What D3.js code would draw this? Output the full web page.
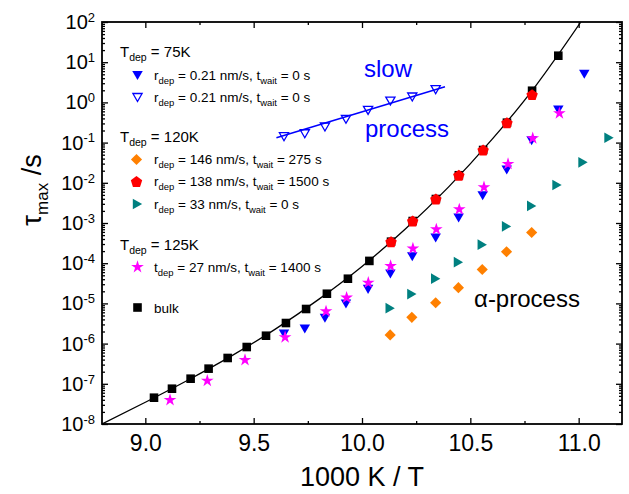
<!DOCTYPE html>
<html><head><meta charset="utf-8">
<script src="https://cdn.jsdelivr.net/npm/d3@7"></script>
<style>
body{margin:0;background:#fff}
text{font-family:"Liberation Sans",Arial,Helvetica,sans-serif}
</style>
</head><body>
<svg id="chart" width="629" height="494"></svg>
<script>
// ---------- data (x = 1000 K / T, y = tau_max in s) ----------
const bulkX = [9.04, 9.123, 9.209, 9.292, 9.38, 9.468, 9.557, 9.649, 9.742, 9.838, 9.935, 10.034, 10.134, 10.234, 10.341, 10.447, 10.559, 10.669, 10.785, 10.906];
const bulkTau = [4.51e-8, 7.55e-8, 1.34e-7, 2.38e-7, 4.39e-7, 8.22e-7, 1.57e-6, 3.25e-6, 7.26e-6, 1.74e-5, 4.11e-5, 1.14e-4, 3.43e-4, 1.12e-3, 3.95e-3, 1.54e-2, 6.55e-2, 0.313, 1.95, 14.5];

const fitX = [8.8, 9.0, 9.2, 9.4, 9.6, 9.8, 10.0, 10.2, 10.4, 10.6, 10.8, 11.01];
const fitTau = [1e-8, 3.47e-8, 1.26e-7, 5.01e-7, 2.29e-6, 1.26e-5, 8.32e-5, 7.08e-4, 7.94e-3, 0.120, 2.51, 100];

const blueX = [9.64, 9.736, 9.829, 9.926, 10.028, 10.131, 10.232, 10.34, 10.446, 10.557, 10.668, 10.783, 10.906, 11.026];
const blueTau = [1.73e-6, 2.31e-6, 4.26e-6, 9.66e-6, 2.24e-5, 5.38e-5, 1.45e-4, 4.24e-4, 1.33e-3, 4.78e-3, 2.08e-2, 0.111, 0.647, 5.0];

const slowX = [9.64, 9.736, 9.829, 9.926, 10.028, 10.131, 10.232, 10.34];
const slowTau = [0.140, 0.166, 0.244, 0.380, 0.635, 1.08, 1.36, 2.07];
const slowFitX = [9.605, 10.383];
const slowFitTau = [0.132, 2.46];

const orangeX = [10.13, 10.23, 10.34, 10.445, 10.555, 10.667, 10.783];
const orangeTau = [1.64e-6, 4.51e-6, 1.04e-5, 2.46e-5, 6.97e-5, 1.93e-4, 5.81e-4];

const redX = [10.134, 10.234, 10.341, 10.447, 10.559, 10.669, 10.785];
const redTau = [3.43e-4, 1.12e-3, 3.95e-3, 1.54e-2, 6.55e-2, 0.313, 1.56];

const tealX = [10.13, 10.23, 10.34, 10.445, 10.555, 10.667, 10.783, 10.9, 11.02, 11.14];
const tealTau = [7.60e-6, 1.71e-5, 4.11e-5, 1.06e-4, 2.88e-4, 8.22e-4, 2.65e-3, 8.81e-3, 3.24e-2, 0.132];

const starX = [9.114, 9.286, 9.46, 9.645, 9.834, 9.929, 10.029, 10.132, 10.235, 10.343, 10.449, 10.563, 10.674, 10.788, 10.911];
const starTau = [3.95e-8, 1.19e-7, 3.91e-7, 1.44e-6, 6.35e-6, 1.39e-5, 3.27e-5, 8.51e-5, 2.32e-4, 6.97e-4, 2.19e-3, 7.73e-3, 2.94e-2, 0.128, 0.536];

const xTicks = [9.0, 9.5, 10.0, 10.5, 11.0];
const xMinorTicks = [9.25, 9.75, 10.25, 10.75];
const yExponents = [-8, -7, -6, -5, -4, -3, -2, -1, 0, 1, 2];

// ---------- layout ----------
const L = 102, R = 622, T = 22, B = 424;
const svg = d3.select("#chart");
const x = d3.scaleLinear().domain([8.8, 11.2]).range([L, R]);
const y = d3.scaleLog().domain([1e-8, 1e2]).range([B, T]);

const C = {blue:"#0000ff", orange:"#ff8000", red:"#ff0000", teal:"#008080", magenta:"#ff00ff", black:"#000"};

// ---------- custom symbols ----------
function triSym(dir){ // bbox-centred triangle, size = width^2
  return {draw(ctx, s){
    const w = Math.sqrt(s), h = w*0.87;
    if(dir==="down"){ ctx.moveTo(-w/2,-h/2); ctx.lineTo(w/2,-h/2); ctx.lineTo(0,h/2); }
    else if(dir==="right"){ ctx.moveTo(-h/2,-w/2); ctx.lineTo(h/2,0); ctx.lineTo(-h/2,w/2); }
    ctx.closePath();
  }};
}
const pentSym = {draw(ctx, s){
  const r = Math.sqrt(s);
  for(let i=0;i<5;i++){
    const a = -Math.PI/2 + i*2*Math.PI/5;
    const px = r*Math.cos(a), py = r*Math.sin(a) + r*0.1;
    if(i===0) ctx.moveTo(px,py); else ctx.lineTo(px,py);
  }
  ctx.closePath();
}};
const diamSym = {draw(ctx, s){
  const r = Math.sqrt(s)/2;
  ctx.moveTo(0,-r); ctx.lineTo(r,0); ctx.lineTo(0,r); ctx.lineTo(-r,0); ctx.closePath();
}};

const S = {
  blue: d3.symbol().type(triSym("down")).size(110),
  open: d3.symbol().type(triSym("down")).size(85),
  orange: d3.symbol().type(diamSym).size(125),
  red: d3.symbol().type(pentSym).size(36),
  teal: d3.symbol().type(triSym("right")).size(115),
  star: d3.symbol().type(d3.symbolStar).size(50),
  bulk: d3.symbol().type(d3.symbolSquare).size(74)
};

// ---------- clip ----------
svg.append("defs").append("clipPath").attr("id","clip")
  .append("rect").attr("x",L).attr("y",T).attr("width",R-L).attr("height",B-T);

const plot = svg.append("g").attr("clip-path","url(#clip)");

// fit line for bulk
const lineGen = d3.line().x(d=>x(d[0])).y(d=>y(d[1])).curve(d3.curveMonotoneX);
plot.append("path").datum(fitX.map((v,i)=>[v, fitTau[i]]))
  .attr("d", lineGen).attr("fill","none").attr("stroke","#000").attr("stroke-width",1.3);

function pts(xs, ys, sym, fill, stroke, sw){
  plot.append("g").selectAll("path").data(xs.map((v,i)=>[v, ys[i]])).join("path")
    .attr("transform", d=>`translate(${x(d[0])},${y(d[1])})`)
    .attr("d", sym)
    .attr("fill", fill).attr("stroke", stroke||"none").attr("stroke-width", sw||0);
}

pts(bulkX, bulkTau, S.bulk, C.black);
pts(blueX, blueTau, S.blue, C.blue);
// slow process line + open triangles
plot.append("path").datum(slowFitX.map((v,i)=>[v, slowFitTau[i]]))
  .attr("d", d3.line().x(d=>x(d[0])).y(d=>y(d[1]))).attr("fill","none")
  .attr("stroke",C.blue).attr("stroke-width",1.5);
pts(slowX, slowTau, S.open, "none", C.blue, 1.3);
pts(orangeX, orangeTau, S.orange, C.orange);
pts(redX, redTau, S.red, C.red);
pts(tealX, tealTau, S.teal, C.teal);
pts(starX, starTau, S.star, C.magenta);

// ---------- axes ----------
function styleAxis(g){
  g.select(".domain").remove();
  g.selectAll(".tick line").attr("stroke","#000").attr("stroke-width",1.3);
}
// bottom
const gB = svg.append("g").attr("transform",`translate(0,${B})`)
  .call(d3.axisBottom(x).tickValues(xTicks).tickSize(-6).tickPadding(11).tickFormat(d3.format(".1f")));
styleAxis(gB);
gB.selectAll("text").attr("font-size",23).attr("fill","#000").attr("font-family","Liberation Sans, Arial, sans-serif");
svg.append("g").attr("transform",`translate(0,${B})`)
  .call(d3.axisBottom(x).tickValues(xMinorTicks).tickSize(-3).tickFormat("")).call(styleAxis);
// top
svg.append("g").attr("transform",`translate(0,${T})`)
  .call(d3.axisTop(x).tickValues(xTicks).tickSize(-6).tickFormat("")).call(styleAxis);
svg.append("g").attr("transform",`translate(0,${T})`)
  .call(d3.axisTop(x).tickValues(xMinorTicks).tickSize(-3).tickFormat("")).call(styleAxis);

// y minors
const yMinor = [];
yExponents.slice(0,-1).forEach(e=>{ for(let k=2;k<=9;k++) yMinor.push(k*Math.pow(10,e)); });
const yMajor = yExponents.map(e=>Math.pow(10,e));

const gL = svg.append("g").attr("transform",`translate(${L},0)`)
  .call(d3.axisLeft(y).tickValues(yMajor).tickSize(-6).tickPadding(8).tickFormat(""));
styleAxis(gL);
svg.append("g").attr("transform",`translate(${L},0)`)
  .call(d3.axisLeft(y).tickValues(yMinor).tickSize(-3).tickFormat("")).call(styleAxis);
svg.append("g").attr("transform",`translate(${R},0)`)
  .call(d3.axisRight(y).tickValues(yMajor).tickSize(-6).tickFormat("")).call(styleAxis);
svg.append("g").attr("transform",`translate(${R},0)`)
  .call(d3.axisRight(y).tickValues(yMinor).tickSize(-3).tickFormat("")).call(styleAxis);

// y tick labels with superscripts
gL.selectAll(".tick").each(function(d){
  const e = Math.round(Math.log10(d));
  const t = d3.select(this).select("text");
  t.text(null).attr("x",-7).attr("dy","0.32em").attr("font-size",20).attr("fill","#000")
   .attr("text-anchor","end");
  t.append("tspan").text("10");
  t.append("tspan").attr("dy","-0.55em").attr("font-size",13).text(String(e));
});

// frame
svg.append("rect").attr("x",L).attr("y",T).attr("width",R-L).attr("height",B-T)
  .attr("fill","none").attr("stroke","#000").attr("stroke-width",1.8);

// axis titles
svg.append("text").attr("x",(L+R)/2).attr("y",486).attr("text-anchor","middle")
  .attr("font-size",27).text("1000 K / T");
const yt = svg.append("text").attr("transform","translate(41,190) rotate(-90)")
  .attr("text-anchor","middle").attr("font-size",27);
yt.append("tspan").text("τ");
yt.append("tspan").attr("dy",7).attr("font-size",17).text("max");
yt.append("tspan").attr("dy",-7).text(" /s");

// annotations
svg.append("text").attr("x",364).attr("y",77).attr("font-size",24).attr("fill",C.blue).text("slow");
svg.append("text").attr("x",365).attr("y",137).attr("font-size",24).attr("fill",C.blue).text("process");
svg.append("text").attr("x",474).attr("y",307).attr("font-size",24).attr("fill","#000").text("α-process");

// ---------- legend ----------
function rich(xp, yp, parts, fs){
  fs = fs || 13.5;
  const t = svg.append("text").attr("x",xp).attr("y",yp).attr("font-size",fs).attr("fill","#000");
  let sub = false;
  parts.forEach(p=>{
    if(typeof p === "object"){
      t.append("tspan").attr("dy",4).attr("font-size",fs*0.7).text(p.s);
      sub = true;
    } else {
      const ts = t.append("tspan").text(p);
      if(sub){ ts.attr("dy",-4); sub=false; }
    }
  });
}
function legSym(xp, yp, sym, fill, stroke, sw){
  svg.append("path").attr("transform",`translate(${xp},${yp})`).attr("d",sym)
    .attr("fill",fill).attr("stroke",stroke||"none").attr("stroke-width",sw||0);
}
const legX = 120, symX = 137.5, txtX = 154, hfs = 15;
rich(legX, 57, ["T",{s:"dep"}," = 75K"], hfs);
legSym(symX, 75.5, S.blue, C.blue);
rich(txtX, 80, ["r",{s:"dep"}," = 0.21 nm/s, t",{s:"wait"}," = 0 s"]);
legSym(symX, 97.5, S.open, "none", C.blue, 1.3);
rich(txtX, 102, ["r",{s:"dep"}," = 0.21 nm/s, t",{s:"wait"}," = 0 s"]);

rich(legX, 142, ["T",{s:"dep"}," = 120K"], hfs);
legSym(symX-1, 159.5, S.orange, C.orange);
rich(txtX, 164, ["r",{s:"dep"}," = 146 nm/s, t",{s:"wait"}," = 275 s"]);
legSym(symX-1, 181.5, S.red, C.red);
rich(txtX, 186, ["r",{s:"dep"}," = 138 nm/s, t",{s:"wait"}," = 1500 s"]);
legSym(symX, 204, S.teal, C.teal);
rich(txtX, 208.5, ["r",{s:"dep"}," = 33 nm/s, t",{s:"wait"}," = 0 s"]);

rich(legX, 250, ["T",{s:"dep"}," = 125K"], hfs);
legSym(symX, 267, S.star, C.magenta);
rich(txtX, 272, ["t",{s:"dep"}," = 27 nm/s, t",{s:"wait"}," = 1400 s"]);

legSym(symX, 307.5, S.bulk, C.black);
rich(txtX, 312.5, ["bulk"]);
</script>
</body></html>
